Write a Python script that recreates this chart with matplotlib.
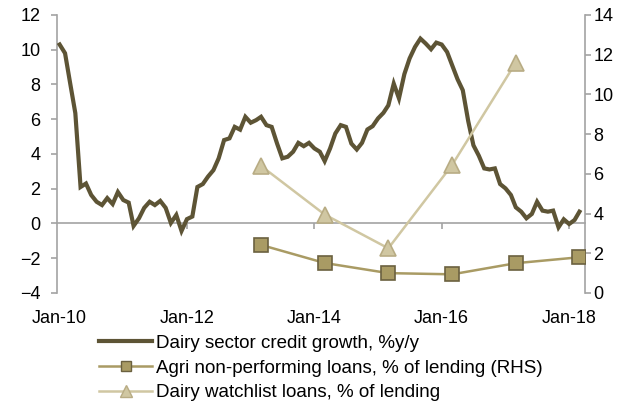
import numpy as np
import pandas as pd
import matplotlib
matplotlib.use("Agg")
import matplotlib.pyplot as plt
import matplotlib.dates as mdates
from matplotlib.lines import Line2D

plt.rcParams["font.family"] = ["Liberation Sans", "DejaVu Sans"]

# ── data ────────────────────────────────────────────────────────────────────
months = pd.date_range("2010-01-01", periods=99, freq="MS")
credit_growth = [
    10.3, 9.8, 8.15, 6.35, 2.1, 2.3, 1.64, 1.25, 1.06, 1.46, 1.12, 1.81,
    1.35, 1.2, -0.14, 0.3, 0.9, 1.25, 1.06, 1.3, 0.9, 0.03, 0.49, -0.43,
    0.25, 0.4, 2.1, 2.27, 2.7, 3.07, 3.75, 4.8, 4.9, 5.56, 5.4, 6.14,
    5.8, 5.95, 6.14, 5.66, 5.56, 4.6, 3.75, 3.84, 4.13, 4.64, 4.45, 4.64,
    4.32, 4.13, 3.59, 4.32, 5.18, 5.66, 5.56, 4.6, 4.26, 4.64, 5.41, 5.6,
    6.05, 6.37, 6.8, 8.05, 7.2, 8.6, 9.5, 10.16, 10.64, 10.36, 10.03, 10.41,
    10.3, 9.87, 9.11, 8.3, 7.67, 5.9, 4.5, 3.9, 3.17, 3.11, 3.17, 2.27,
    2.02, 1.64, 0.93, 0.68, 0.3, 0.55, 1.25, 0.74, 0.68, 0.74, -0.22, 0.24,
    -0.03, 0.2, 0.68,
]

npl_dates = pd.to_datetime(["2013-03-01", "2014-03-01", "2015-03-01",
                            "2016-03-01", "2017-03-01", "2018-03-01"])
npl_rhs = [2.42, 1.51, 1.0, 0.94, 1.5, 1.8]

watch_dates = pd.to_datetime(["2013-03-01", "2014-03-01", "2015-03-01",
                              "2016-03-01", "2017-03-01"])
watchlist = [6.4, 3.95, 2.25, 6.45, 11.6]

tick_dates = pd.to_datetime(["2010-01-01", "2012-01-01", "2014-01-01",
                             "2016-01-01", "2018-01-01"])

DARK = "#5d5435"
MID = "#a99b64"
MID_EDGE = "#6b6140"
LIGHT = "#d0c7a2"
LIGHT_EDGE = "#b8ac84"
GREY = "#a3a3a3"

# ── figure ──────────────────────────────────────────────────────────────────
fig = plt.figure(figsize=(6.35, 4.03), dpi=100)
ax = fig.add_axes([0.0898, 0.273, 0.8315, 0.6898])

x = mdates.date2num(months)
ax.plot(x, credit_growth, color=DARK, linewidth=3.0,
        solid_joinstyle="miter", zorder=3)

ax.set_ylim(-4, 12)
ax.set_yticks(np.arange(-4, 13, 2))
ax.set_xlim(mdates.date2num(pd.Timestamp("2009-12-17")),
            mdates.date2num(pd.Timestamp("2018-04-02")))

for s in ["top", "right", "bottom"]:
    ax.spines[s].set_visible(False)
ax.spines["left"].set_color(GREY)
ax.spines["left"].set_linewidth(1.2)
ax.tick_params(axis="y", direction="out", length=4, width=1.2, color=GREY,
               labelsize=13, pad=8)

# date labels at the bottom, no tick marks
xt = mdates.date2num(tick_dates)
ax.set_xticks(xt)
ax.xaxis.set_major_formatter(mdates.DateFormatter("%b-%y"))
ax.tick_params(axis="x", length=0, labelsize=13, pad=12)

# zero line with tick marks
zero = ax.secondary_xaxis(0.25)
zero.set_xticks(xt[1:])
zero.set_xticklabels([])
zero.spines["bottom"].set_color(GREY)
zero.spines["bottom"].set_linewidth(1.2)
zero.tick_params(axis="x", direction="out", length=4, width=1.2, color=GREY)

# right axis
ax2 = ax.twinx()
ax2.set_ylim(0, 14)
ax2.set_yticks(np.arange(0, 15, 2))
for s in ["top", "left", "bottom"]:
    ax2.spines[s].set_visible(False)
ax2.spines["right"].set_color(GREY)
ax2.spines["right"].set_linewidth(1.2)
ax2.tick_params(axis="y", direction="out", length=4, width=1.2, color=GREY,
                labelsize=13, pad=2)

ax2.plot(mdates.date2num(npl_dates), npl_rhs, color=MID, linewidth=1.8,
         marker="s", markersize=9.5, markerfacecolor=MID,
         markeredgecolor=MID_EDGE, markeredgewidth=1.2, zorder=4)
ax2.plot(mdates.date2num(watch_dates), watchlist, color=LIGHT, linewidth=1.8,
         marker="^", markersize=12, markerfacecolor=LIGHT,
         markeredgecolor=LIGHT_EDGE, markeredgewidth=1.2, zorder=5)

handles = [
    Line2D([0], [0], color=DARK, linewidth=3.0),
    Line2D([0], [0], color=MID, linewidth=1.8, marker="s", markersize=7,
           markerfacecolor=MID, markeredgecolor=MID_EDGE, markeredgewidth=1.0),
    Line2D([0], [0], color=LIGHT, linewidth=1.8, marker="^", markersize=8,
           markerfacecolor=LIGHT, markeredgecolor=LIGHT_EDGE, markeredgewidth=1.0),
]
labels = [
    "Dairy sector credit growth, %y/y",
    "Agri non-performing loans, % of lending (RHS)",
    "Dairy watchlist loans, % of lending",
]
fig.legend(handles, labels, loc="upper left", bbox_to_anchor=(0.156, 0.169),
           frameon=False, fontsize=13.5, handlelength=2.85, handletextpad=0.2,
           labelspacing=0.4, borderpad=0, borderaxespad=0)

fig.savefig("out.png", dpi=100)
